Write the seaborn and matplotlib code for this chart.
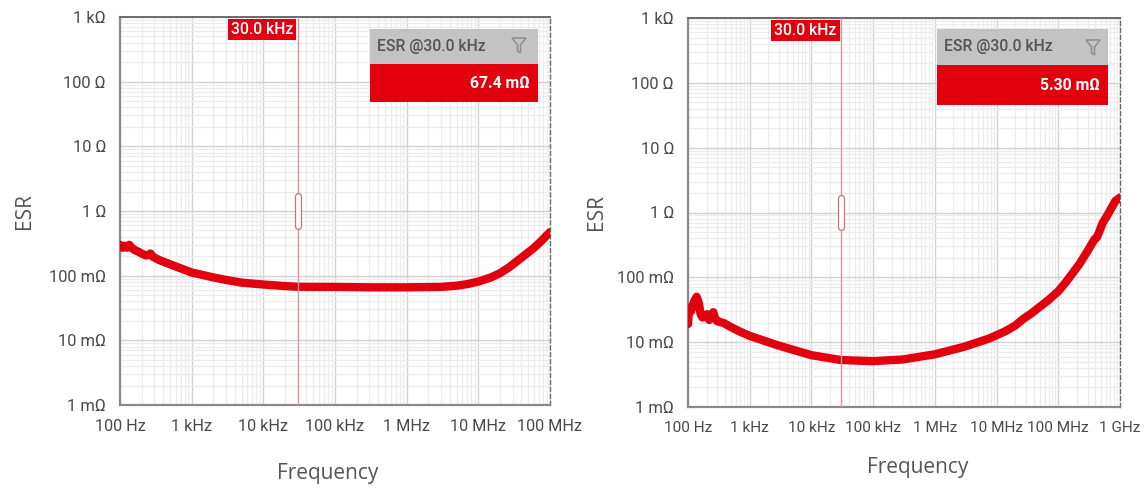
import numpy as np
import pandas as pd
import matplotlib
matplotlib.use("Agg")
import matplotlib.pyplot as plt
import matplotlib.transforms as mtransforms
from matplotlib.patches import Rectangle, Polygon
from matplotlib.ticker import LogLocator, NullFormatter, FixedLocator, FixedFormatter
import seaborn as sns

# ESR sweep of the first part (100 Hz .. 100 MHz), ohms
freq_a = [100, 108, 115, 125, 135, 145, 160, 180, 200, 230, 250, 265, 290, 350,
          500, 700, 1e3, 2e3, 3e3, 5e3, 1e4, 2e4, 3e4, 5e4, 1e5, 3e5, 1e6,
          3e6, 5e6, 7e6, 1e7, 1.5e7, 2e7, 2.7e7, 3.4e7, 4.5e7, 5.9e7, 7.5e7,
          9e7, 1e8]
esr_a = [0.30, 0.27, 0.29, 0.27, 0.30, 0.27, 0.25, 0.235, 0.22, 0.205, 0.21, 0.22,
         0.195, 0.175, 0.15, 0.13, 0.112, 0.094, 0.086, 0.078, 0.073, 0.069,
         0.0674, 0.067, 0.067, 0.066, 0.066, 0.067, 0.070, 0.074, 0.081, 0.094,
         0.109, 0.135, 0.165, 0.21, 0.266, 0.34, 0.42, 0.47]

# ESR sweep of the second part (100 Hz .. 1 GHz), ohms
freq_b = [100, 104, 112, 125, 138, 150, 160, 172, 190, 205, 220, 240, 257, 275,
          300, 380, 500, 700, 1e3, 3e3, 1e4, 3e4, 1e5, 3e5, 1e6, 3e6, 7.8e6,
          1.4e7, 2e7, 2.7e7, 3.7e7, 5e7, 7e7, 1e8, 1.3e8, 1.58e8, 2.2e8, 2.95e8,
          3.5e8, 3.9e8, 4.2e8, 4.6e8, 5.2e8, 6e8, 7e8, 8.4e8, 1e9]
esr_b = [0.019, 0.034, 0.030, 0.042, 0.050, 0.040, 0.027, 0.024, 0.026, 0.027,
         0.022, 0.025, 0.029, 0.023, 0.021, 0.0197, 0.017, 0.0145, 0.0125,
         0.0088, 0.0063, 0.0053, 0.0051, 0.0054, 0.0065, 0.0085, 0.0115,
         0.0148, 0.018, 0.0228, 0.028, 0.035, 0.045, 0.061, 0.082, 0.105, 0.16,
         0.25, 0.33, 0.39, 0.41, 0.50, 0.68, 0.85, 1.1, 1.5, 1.7]

marker_freq = 30000
marker_label = "30.0 kHz"
readout_title = "ESR @30.0 kHz"
readouts = ["67.4 mΩ", "5.30 mΩ"]

x_ticks_a = [1e2, 1e3, 1e4, 1e5, 1e6, 1e7, 1e8]
x_labels_a = ["100 Hz", "1 kHz", "10 kHz", "100 kHz", "1 MHz", "10 MHz", "100 MHz"]
x_ticks_b = [1e2, 1e3, 1e4, 1e5, 1e6, 1e7, 1e8, 1e9]
x_labels_b = ["100 Hz", "1 kHz", "10 kHz", "100 kHz", "1 MHz", "10 MHz", "100 MHz", "1 GHz"]
y_ticks = [1e-3, 1e-2, 1e-1, 1, 10, 100, 1000]
y_labels = ["1 mΩ", "10 mΩ", "100 mΩ", "1 Ω", "10 Ω", "100 Ω", "1 kΩ"]

RED = "#e2000f"
MARK = "#e0959a"
GREY_HDR = "#c3c3c3"
TXT = "#4a4a4a"

sns.set_style("white")
plt.rcParams["font.family"] = ["Roboto", "DejaVu Sans"]

fig = plt.figure(figsize=(11.47, 4.88), dpi=100)
W, H = 1147, 488


def px_axes(x0, x1, ytop, ybot):
    return fig.add_axes([x0 / W, (H - ybot) / H, (x1 - x0) / W, (ybot - ytop) / H])


panels = [
    dict(ax=px_axes(120, 550, 17, 405), f=freq_a, r=esr_a, xlim=(1e2, 1e8),
         xt=x_ticks_a, xl=x_labels_a, xsize=11.7, readout=readouts[0],
         box=(370, 538, 29, 64, 102), ylab_x=25, xlab=(328, 473), funnel=(519, 45),
         hdr_text_x=377, val_x=530),
    dict(ax=px_axes(688, 1120, 18, 407), f=freq_b, r=esr_b, xlim=(1e2, 1e9),
         xt=x_ticks_b, xl=x_labels_b, xsize=11.1, readout=readouts[1],
         box=(937, 1108, 29, 65, 105), ylab_x=597, xlab=(918, 468), funnel=(1093, 47),
         hdr_text_x=944, val_x=1100),
]

for p in panels:
    ax = p["ax"]
    bb = ax.get_position()
    ax_x0, ax_x1 = bb.x0 * W, bb.x1 * W
    ax_ytop, ax_ybot = H - bb.y1 * H, H - bb.y0 * H

    def fx(x):
        return (x - ax_x0) / (ax_x1 - ax_x0)

    def fy(y):
        return (ax_ybot - y) / (ax_ybot - ax_ytop)

    df = pd.DataFrame({"Frequency": p["f"], "ESR": p["r"]})
    sns.lineplot(data=df, x="Frequency", y="ESR", ax=ax, color=RED, lw=6.0,
                 solid_capstyle="round", solid_joinstyle="round", zorder=4,
                 estimator=None, sort=False)
    ax.set_xscale("log")
    ax.set_yscale("log")
    ax.set_xlim(*p["xlim"])
    ax.set_ylim(1e-3, 1e3)

    ax.xaxis.set_major_locator(FixedLocator(p["xt"]))
    ax.xaxis.set_major_formatter(FixedFormatter(p["xl"]))
    ax.yaxis.set_major_locator(FixedLocator(y_ticks))
    ax.yaxis.set_major_formatter(FixedFormatter(y_labels))
    ax.xaxis.set_minor_locator(LogLocator(base=10, subs=np.arange(2, 10), numticks=20))
    ax.yaxis.set_minor_locator(LogLocator(base=10, subs=np.arange(2, 10), numticks=20))
    ax.xaxis.set_minor_formatter(NullFormatter())
    ax.yaxis.set_minor_formatter(NullFormatter())

    ax.grid(which="major", color="#d2d2d2", lw=1.0, zorder=0)
    ax.grid(which="minor", color="#ececec", lw=0.9, zorder=0)
    ax.set_axisbelow(True)

    ax.tick_params(axis="x", which="major", direction="out", length=5, width=1.2,
                   color="#8a8a8a", labelsize=p["xsize"], labelcolor=TXT, pad=5)
    ax.tick_params(axis="x", which="minor", direction="in", length=5, width=1.0,
                   color="#8a8a8a")
    ax.tick_params(axis="y", which="major", direction="out", length=5, width=1.2,
                   color="#8a8a8a", labelsize=11.9, labelcolor=TXT, pad=5)
    ax.tick_params(axis="y", which="minor", direction="out", length=3, width=1.0,
                   color="#9a9a9a")

    for side in ("left", "bottom"):
        ax.spines[side].set_color("#8a8a8a")
        ax.spines[side].set_linewidth(1.6)
    ax.spines["top"].set_color("#6a6a6a")
    ax.spines["top"].set_linewidth(1.4)
    ax.spines["right"].set_color("#6a6a6a")
    ax.spines["right"].set_linewidth(1.0)
    ax.spines["right"].set_linestyle((0, (3, 2)))

    ax.set_xlabel("Frequency", family=["Open Sans", "DejaVu Sans"], fontsize=15,
                  color="#555555")
    ax.set_ylabel("ESR", family=["Open Sans", "DejaVu Sans"], fontsize=15,
                  color="#555555")
    ax.xaxis.set_label_coords(fx(p["xlab"][0]), fy(p["xlab"][1]))
    ax.yaxis.set_label_coords(fx(p["ylab_x"]), 0.5)
    ax.xaxis.label.set_va("center")
    ax.yaxis.label.set_va("center")

    # cursor line at the marker frequency
    blend = mtransforms.blended_transform_factory(ax.transData, ax.transAxes)
    ax.plot([marker_freq, marker_freq], [0, 1], transform=blend, color=MARK,
            lw=1.0, zorder=5)
    # drag handle on the cursor
    ax.plot([marker_freq, marker_freq], [0.462, 0.538], transform=blend,
            color="#d0727a", lw=5.2, solid_capstyle="round", zorder=6)
    ax.plot([marker_freq, marker_freq], [0.462, 0.538], transform=blend,
            color="white", lw=3.4, solid_capstyle="round", zorder=7)
    # cursor frequency tag
    ax.annotate(marker_label, xy=(marker_freq, 1.0), xycoords=blend,
                xytext=(-3.2, -3.6), textcoords="offset points", ha="right", va="top",
                fontsize=11.3, color="white", fontweight="medium", zorder=8,
                bbox=dict(boxstyle="square,pad=0.2", fc=RED, ec="none"),
                annotation_clip=False)

    # readout panel
    x0, x1, yt, ym, yb = p["box"]
    ax.add_patch(Rectangle((fx(x0), fy(ym)), fx(x1) - fx(x0), fy(yt) - fy(ym),
                           transform=ax.transAxes, fc=GREY_HDR, ec="none", zorder=8))
    ax.add_patch(Rectangle((fx(x0), fy(yb)), fx(x1) - fx(x0), fy(ym) - fy(yb),
                           transform=ax.transAxes, fc=RED, ec="none", zorder=8))
    ax.text(fx(p["hdr_text_x"]), fy((yt + ym) / 2), readout_title,
            transform=ax.transAxes, ha="left", va="center", fontsize=11.3,
            color="#555555", fontweight="medium", zorder=9)
    ax.text(fx(p["val_x"]), fy((ym + yb) / 2), p["readout"],
            transform=ax.transAxes, ha="right", va="center", fontsize=11.3,
            color="white", fontweight="bold", zorder=9)
    # filter icon
    cx, cy = p["funnel"]
    ftrans = fig.dpi_scale_trans + mtransforms.ScaledTranslation(
        fx(cx), fy(cy), ax.transAxes)
    pts = np.array([(-7, 7), (7, 7), (1.5, 0), (1.5, -8), (-1.5, -6), (-1.5, 0)]) / 100.0
    ax.add_patch(Polygon(pts, closed=True, transform=ftrans, fc="none",
                         ec="#8e8e8e", lw=1.1, zorder=9))

fig.savefig("out.png", dpi=100)
